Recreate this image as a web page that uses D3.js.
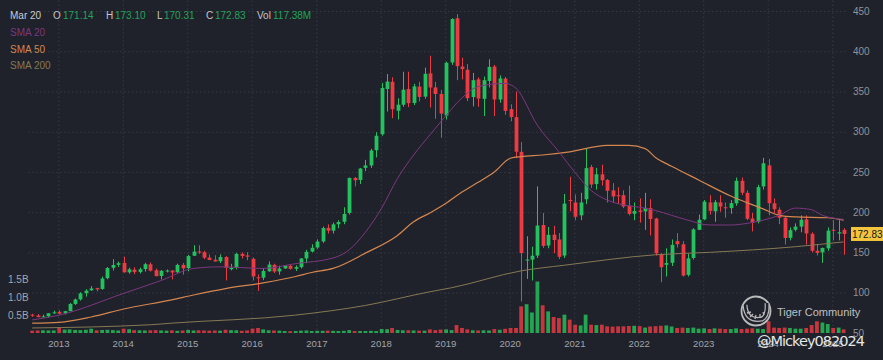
<!DOCTYPE html>
<html><head><meta charset="utf-8">
<script src="https://cdn.jsdelivr.net/npm/d3@7"></script>
<style>html,body{margin:0;padding:0;background:#1f222a;}svg{display:block;}</style>
</head><body>
<svg id="c" width="883" height="360"></svg>
<script>
// ---- DATA ----
const months = [
"2012-08","2012-09","2012-10","2012-11","2012-12",
"2013-01","2013-02","2013-03","2013-04","2013-05","2013-06","2013-07","2013-08","2013-09","2013-10","2013-11","2013-12",
"2014-01","2014-02","2014-03","2014-04","2014-05","2014-06","2014-07","2014-08","2014-09","2014-10","2014-11","2014-12",
"2015-01","2015-02","2015-03","2015-04","2015-05","2015-06","2015-07","2015-08","2015-09","2015-10","2015-11","2015-12",
"2016-01","2016-02","2016-03","2016-04","2016-05","2016-06","2016-07","2016-08","2016-09","2016-10","2016-11","2016-12",
"2017-01","2017-02","2017-03","2017-04","2017-05","2017-06","2017-07","2017-08","2017-09","2017-10","2017-11","2017-12",
"2018-01","2018-02","2018-03","2018-04","2018-05","2018-06","2018-07","2018-08","2018-09","2018-10","2018-11","2018-12",
"2019-01","2019-02","2019-03","2019-04","2019-05","2019-06","2019-07","2019-08","2019-09","2019-10","2019-11","2019-12",
"2020-01","2020-02","2020-03","2020-04","2020-05","2020-06","2020-07","2020-08","2020-09","2020-10","2020-11","2020-12",
"2021-01","2021-02","2021-03","2021-04","2021-05","2021-06","2021-07","2021-08","2021-09","2021-10","2021-11","2021-12",
"2022-01","2022-02","2022-03","2022-04","2022-05","2022-06","2022-07","2022-08","2022-09","2022-10","2022-11","2022-12",
"2023-01","2023-02","2023-03","2023-04","2023-05","2023-06","2023-07","2023-08","2023-09","2023-10","2023-11","2023-12",
"2024-01","2024-02","2024-03","2024-04","2024-05","2024-06","2024-07","2024-08","2024-09","2024-10","2024-11","2024-12",
"2025-01","2025-02","2025-03"];
const open = [
72.5,71.5,70.0,70.5,74.5,
76.1,74.2,77.0,85.9,91.6,99.2,102.8,105.5,104.5,117.9,130.8,134.5,
136.9,125.2,128.5,125.6,129.2,135.2,127.8,120.6,127.3,127.3,125.3,134.4,
130.5,145.8,151.1,150.2,143.5,140.8,139.0,144.2,129.0,131.0,148.1,146.2,
142.0,119.0,118.5,126.5,134.5,126.3,130.0,133.3,129.6,131.6,142.4,151.0,
156.0,163.6,180.5,177.0,185.0,188.0,199.0,242.5,240.0,255.0,258.0,277.0,
296.8,353.0,362.0,326.0,333.5,353.0,335.6,356.0,343.6,372.5,355.0,347.0,
320.0,386.0,441.0,381.0,377.0,343.0,365.0,340.8,363.0,381.0,340.0,366.0,
328.0,318.0,275.0,140.5,141.0,146.0,184.0,158.5,172.0,166.0,146.0,215.0,
212.0,196.0,216.0,256.0,235.0,247.0,240.0,227.0,221.0,221.0,208.0,198.0,
202.0,201.0,205.0,192.0,148.0,134.5,137.0,164.0,160.0,122.0,143.0,178.0,
191.0,212.0,201.0,212.0,206.0,205.0,211.0,239.0,224.0,192.0,188.0,232.0,
258.0,211.0,203.0,193.0,168.0,178.0,182.0,191.0,173.0,152.0,150.0,155.0,
178.0,173.5,178.0];
const high = [
73.6,73.2,72.6,74.4,77.6,
77.9,77.3,86.9,92.6,100.4,104.2,108.0,106.0,119.9,131.8,141.5,138.5,
144.6,130.9,131.5,131.0,137.0,137.5,129.8,128.0,128.7,128.0,136.0,136.8,
146.8,158.8,158.8,152.0,147.3,146.4,147.5,145.3,135.7,149.4,149.9,150.2,
143.5,122.6,130.4,138.7,135.8,133.4,134.3,134.5,133.8,143.0,153.1,160.0,
166.1,182.1,184.8,187.0,189.9,206.0,243.0,243.6,254.9,264.9,278.7,299.3,
360.6,371.6,367.7,341.5,374.5,374.5,359.4,362.0,379.6,394.3,362.0,352.0,
387.0,441.0,446.0,392.0,384.0,373.0,367.5,368.5,390.0,383.0,370.0,368.0,
334.0,350.0,287.0,170.0,157.0,232.0,199.0,181.5,183.0,174.0,222.5,244.0,
222.0,224.0,278.6,258.8,255.0,259.0,241.0,236.0,231.0,227.0,233.0,212.0,
217.0,224.0,216.0,193.0,149.0,155.0,166.0,173.9,164.0,148.0,180.0,197.0,
215.0,221.0,215.0,221.0,212.0,215.0,243.0,243.0,227.0,199.0,234.0,267.5,
266.0,217.0,206.0,194.0,181.0,186.0,196.0,196.0,175.0,160.0,156.0,181.0,
190.0,190.0,180.0];
const low = [
69.8,69.1,69.2,69.1,73.5,
72.7,72.7,76.6,84.6,90.0,95.0,102.1,101.5,103.5,116.5,127.5,131.8,
124.6,123.4,122.8,123.8,126.0,126.2,120.1,116.3,125.0,116.3,124.5,122.3,
126.4,145.6,148.0,141.5,140.2,138.5,136.7,115.1,127.6,128.8,142.3,140.2,
115.1,102.1,115.4,125.8,124.3,122.2,129.5,128.6,126.9,130.0,136.5,150.0,
154.3,161.8,173.3,173.4,180.0,185.0,197.0,232.0,235.0,251.0,255.0,268.0,
295.0,325.0,316.8,315.2,331.0,330.5,333.0,337.5,341.0,330.0,316.0,292.5,
315.0,383.0,364.0,365.0,338.0,331.5,331.0,319.5,355.0,319.5,336.0,321.0,
313.0,267.0,89.0,117.0,115.0,143.0,155.5,155.0,149.0,141.6,143.0,201.0,
190.0,190.0,210.0,230.0,228.0,233.0,212.0,212.0,210.0,205.0,196.0,190.0,
187.0,178.0,171.0,146.0,113.0,120.0,133.0,156.0,120.0,120.0,141.0,178.0,
190.0,197.0,188.0,200.5,193.0,198.0,208.0,221.0,190.0,176.0,186.0,228.0,
196.0,199.0,185.0,159.7,165.0,176.0,175.0,159.7,150.0,146.0,137.0,152.0,
165.0,165.0,147.0];
const close = [
71.4,69.6,70.4,74.3,75.4,
73.9,76.9,85.9,91.4,99.0,102.4,105.1,103.9,117.5,130.5,134.3,136.5,
125.3,128.9,125.5,129.0,135.3,127.2,120.5,127.1,127.4,124.9,134.4,130.0,
145.4,150.9,150.1,143.3,140.5,138.7,144.2,130.7,130.9,148.1,145.5,144.6,
120.1,118.1,126.9,134.8,126.2,129.9,133.7,129.5,131.7,142.4,150.6,155.7,
163.4,180.2,176.9,184.8,187.6,197.8,242.5,239.6,254.2,258.0,276.6,294.9,
354.4,362.3,327.9,333.6,352.2,335.5,356.3,343.2,371.9,354.9,346.8,322.5,
385.6,440.0,381.4,377.7,341.6,364.0,341.2,364.0,380.5,340.0,366.2,325.8,
318.3,275.1,149.1,141.0,145.8,183.3,158.0,171.8,165.3,144.4,210.6,214.0,
194.2,212.0,254.7,234.3,247.0,239.6,226.5,219.5,219.9,207.0,197.8,201.3,
200.2,205.3,191.5,148.8,131.5,136.7,159.3,160.1,121.1,142.5,178.6,190.5,
213.0,201.6,212.4,206.9,205.7,211.2,238.9,224.1,191.7,186.9,231.1,260.7,
211.0,203.7,193.0,167.8,177.6,182.0,190.6,173.5,152.0,149.3,155.4,177.0,
177.0,175.0,172.83];
const volumeM = [
65,70,75,70,70,
160,95,100,85,80,90,120,75,85,90,80,70,
120,105,80,75,70,75,80,70,65,75,60,70,
85,70,75,70,65,70,65,90,80,75,60,70,
120,140,100,75,70,65,55,50,55,65,70,55,
60,60,65,60,55,60,80,55,55,55,60,55,
110,105,140,85,75,75,70,65,65,100,80,95,
100,80,220,140,100,75,70,75,70,110,90,115,
140,140,740,800,570,1430,770,600,445,415,510,370,
230,210,510,230,220,230,185,175,185,185,195,200,
190,150,180,190,200,210,180,140,150,140,150,120,
130,110,130,120,110,110,130,110,120,130,120,110,
325,150,140,150,140,120,120,140,220,325,290,250,
140,150,100];

const sma20Months = ["2012-08","2013-01","2014-01","2014-08","2015-02","2015-07","2016-03","2016-09","2017-04","2017-07","2017-10","2018-01","2018-04","2018-07","2018-10","2018-12","2019-04","2019-07","2019-12","2020-02","2020-06","2020-10","2021-01","2021-04","2021-07","2021-10","2022-01","2022-04","2022-07","2022-10","2023-02","2023-06","2023-09","2023-12","2024-03","2024-06","2024-09","2024-11","2025-03"];
const sma20Values = [66,72,99,115,130,132,130,136,143,153,175,205,242,271,296,312,342,356,360,354,308,275,249,227,215,209,206,202,196,190,184,184,186,190,196,205,203,196,191];
const sma50Months = ["2012-08","2013-01","2013-07","2014-01","2014-10","2015-02","2015-08","2016-03","2016-09","2016-12","2017-04","2017-10","2018-04","2018-07","2018-10","2019-01","2019-04","2019-07","2019-10","2020-01","2020-03","2020-07","2020-12","2021-07","2021-11","2022-02","2022-04","2022-07","2022-12","2023-06","2023-12","2024-03","2024-06","2024-12","2025-03"];
const sma50Values = [62,63,69.6,79.6,91,97,105,112,120,125,130,149,171,188,199,211,225,237,250,267,269,271,275,283,283,279,268,257,240,220,204,196,194,193,190];
const sma200Months = ["2012-08","2014-06","2014-10","2016-09","2017-10","2018-10","2019-02","2020-03","2020-11","2022-04","2023-02","2024-06","2025-03"];
const sma200Values = [56,60,62,72,84,101,106,127,134,147,150,157,163];

const priceTicks = [50,100,150,200,250,300,350,400,450];
const gridPrices = [100,150,200,250,300,350,400,450];
const volTicks = [0.5,1.0,1.5];          // billions
const volTickLabels = ["0.5B","1.0B","1.5B"];
const headerDate = "Mar 20";
const headerLabels = ["O","H","L","C","Vol"];
const headerValues = ["171.14","173.10","170.31","172.83","117.38M"];
const legendNames = ["SMA 20","SMA 50","SMA 200"];
const lastPrice = 172.83;

// ---- STYLE ----
const FONT = "'Liberation Sans', Arial, sans-serif";
const GREEN = "#24c25e", RED = "#ee3a43";
const VGREEN = "#23a552", VRED = "#c9353e";
const C20 = "#7c3780", C50 = "#d48650", C200 = "#857854";

const svg = d3.select("#c");
svg.append("rect").attr("width",883).attr("height",360).attr("fill","#1f222a");

const mdate = s => { const [yy,mm] = s.split("-").map(Number); return new Date(yy, mm-1, 6); };
const x = d3.scaleTime().domain([new Date(2013,0,1), new Date(2025,0,1)]).range([58.3, 832.3]);
const y = d3.scaleLinear().domain([50,450]).range([332.8, 11]);
const yv = d3.scaleLinear().domain([0,1.5]).range([333, 279]);

// grid
const gGrid = svg.append("g");
gGrid.append("g").attr("transform","translate(28,0)")
  .call(d3.axisLeft(y).tickValues(gridPrices).tickSize(-819).tickFormat(""))
  .call(g=>g.select(".domain").remove());
gGrid.append("g").attr("transform","translate(0,334)")
  .call(d3.axisBottom(x).ticks(d3.timeYear.every(1)).tickSize(-334).tickFormat(""))
  .call(g=>g.select(".domain").remove());
gGrid.selectAll("line").attr("stroke","#353945").attr("stroke-dasharray","1.5,2.5").attr("stroke-width",1);

// volume
const bw = 3.8;
svg.append("g").selectAll("rect").data(months).join("rect")
  .attr("x",(d,i)=>x(mdate(d))-bw/2)
  .attr("y",(d,i)=>yv(volumeM[i]/1000))
  .attr("width",bw)
  .attr("height",(d,i)=>yv(0)-yv(volumeM[i]/1000))
  .attr("fill",(d,i)=>close[i]>=open[i]?VGREEN:VRED);

// candles
const gC = svg.append("g");
gC.selectAll("line").data(months).join("line")
  .attr("x1",d=>Math.round(x(mdate(d)))+0.5).attr("x2",d=>Math.round(x(mdate(d)))+0.5)
  .attr("y1",(d,i)=>y(high[i])).attr("y2",(d,i)=>y(low[i]))
  .attr("stroke",(d,i)=>close[i]>=open[i]?GREEN:RED).attr("stroke-width",1);
gC.selectAll("rect").data(months).join("rect")
  .attr("x",d=>Math.round(x(mdate(d)))+0.5-bw/2)
  .attr("y",(d,i)=>y(Math.max(open[i],close[i])))
  .attr("width",bw)
  .attr("height",(d,i)=>Math.max(1,Math.abs(y(open[i])-y(close[i]))))
  .attr("fill",(d,i)=>close[i]>=open[i]?GREEN:RED);

// SMA lines
const line = d3.line().x(d=>x(mdate(d[0]))).y(d=>y(d[1])).curve(d3.curveMonotoneX);
const sLines = [[sma200Months,sma200Values,C200,1],[sma50Months,sma50Values,C50,1.2],[sma20Months,sma20Values,C20,1]];
sLines.forEach(([m,v,c,w])=>{
  svg.append("path").datum(m.map((d,i)=>[d,v[i]])).attr("d",line)
    .attr("fill","none").attr("stroke",c).attr("stroke-width",w);
});

// price axis
const gY = svg.append("g").attr("transform","translate(853,0)")
  .call(d3.axisRight(y).tickValues(priceTicks).tickSize(0).tickPadding(0));
gY.select(".domain").remove();
gY.selectAll("text").attr("fill","#8e929a").attr("font-size","10px").attr("font-family",FONT);

// volume axis labels
svg.append("g").selectAll("text").data(volTicks).join("text")
  .attr("x",8).attr("y",d=>yv(d)).attr("dy","0.35em")
  .attr("fill","#a2a5ab").attr("font-size","10px").attr("font-family",FONT)
  .text((d,i)=>volTickLabels[i]);

// year axis
const gX = svg.append("g").attr("transform","translate(0,340)")
  .call(d3.axisBottom(x).ticks(d3.timeYear.every(1)).tickFormat(d3.timeFormat("%Y")).tickSize(0).tickPadding(0));
gX.select(".domain").remove();
gX.selectAll("text").attr("fill","#a0a4aa").attr("font-size","9.6px").attr("font-family",FONT);

// last price tag
svg.append("rect").attr("x",851).attr("y",y(lastPrice)-7).attr("width",32).attr("height",14).attr("fill","#f2c53d");
svg.append("text").attr("x",852).attr("y",y(lastPrice)).attr("dy","0.36em")
  .attr("fill","#16181d").attr("font-size","10px").attr("font-family",FONT).text(lastPrice.toFixed(2));

// header
const hx = [[53,63],[106,115],[157,164],[206,215],[257,273]];
svg.append("text").attr("x",10).attr("y",19).attr("fill","#c9ccd1").attr("font-size","10px").attr("font-family",FONT).text(headerDate);
headerLabels.forEach((l,i)=>{
  svg.append("text").attr("x",hx[i][0]).attr("y",19).attr("fill","#c3c6cb").attr("font-size","10px").attr("font-family",FONT).text(l);
  svg.append("text").attr("x",hx[i][1]).attr("y",19).attr("fill","#22a45a").attr("font-size","10px").attr("font-family",FONT).text(headerValues[i]);
});
// legend
[C20,C50,C200].forEach((c,i)=>{
  svg.append("text").attr("x",10).attr("y",36+i*16.5).attr("fill",c).attr("font-size","10px").attr("font-family",FONT).text(legendNames[i]);
});

// watermark
const wm = svg.append("g").attr("opacity",0.85);
wm.append("circle").attr("cx",756).attr("cy",311).attr("r",14.5).attr("fill","none").attr("stroke","#d6d6d6").attr("stroke-width",1.8);
wm.append("path").attr("d","M745,305 Q746,322 762,319 Q768,316 767,303").attr("fill","none").attr("stroke","#d6d6d6").attr("stroke-width",5);
wm.append("path").attr("d","M745,305 Q746,322 762,319 Q768,316 767,303").attr("fill","none").attr("stroke","#1f222a").attr("stroke-width",2.6);
[[747,313,751,312],[750,317,753,314],[755,319,756,315],[760,318,760,314],[764,315,763,312]].forEach(s=>{
  wm.append("line").attr("x1",s[0]).attr("y1",s[1]).attr("x2",s[2]).attr("y2",s[3]).attr("stroke","#d6d6d6").attr("stroke-width",1.3);
});
svg.append("text").attr("x",777).attr("y",316).attr("fill","#cfd1d4").attr("opacity",0.9).attr("font-size","11px").attr("font-family",FONT).text("Tiger Community");
svg.append("text").attr("x",757).attr("y",346).attr("fill","#e6e6e6").attr("font-size","14.5px").attr("font-family","'DejaVu Sans', sans-serif").attr("textLength",108).text("@Mickey082024");
</script>
</body></html>
